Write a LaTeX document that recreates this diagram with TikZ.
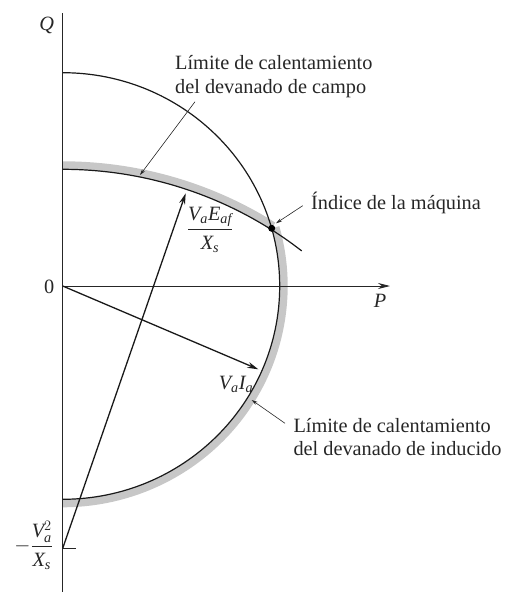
\documentclass[tikz,border=0pt]{standalone}
\usepackage{amsmath}
\usepackage{fontspec}
\setmainfont{Liberation Serif}
\usetikzlibrary{arrows.meta,calc}
\newcommand{\mi}[1]{\textit{#1}}
\begin{document}
\begin{tikzpicture}[x=1pt,y=1pt,
  every node/.style={font=\fontsize{20.3}{23}\selectfont, text=black!85, inner sep=0pt},
  axisline/.style={line width=0.9pt, black!85},
  curve/.style={line width=1.2pt, black!90},
  band/.style={line width=8pt, black!22},
  vec/.style={line width=1.3pt, black!90, -{Stealth[length=11pt,width=6pt]}},
  leader/.style={line width=0.6pt, black!85, -{Stealth[length=6pt,width=3.5pt]}}]
\useasboundingbox (-62.7,-306) rectangle (441.3,286);
% key points
\coordinate (O) at (0,0);
\coordinate (C) at (0,-262.3);
\coordinate (Eaf) at (123,92.7);
\coordinate (Ia) at (195.6,-83.3);
% gray bands
\draw[band] (15.69:221 and 217.3) arc[start angle=15.69,end angle=-90,x radius=221,y radius=217.3];
\draw[band] (0,120.7) arc[start angle=90,end angle=57.3,x radius=389.6,y radius=383];
% limit curves
\draw[curve] (0,213.3) arc[start angle=90,end angle=-90,x radius=217,y radius=213.3];
\draw[curve] (0,116.7) arc[start angle=90,end angle=51.7,x radius=385.6,y radius=379];
% axes
\draw[axisline] (0,-306) -- (0,273);
\draw[axisline,-{Stealth[length=12pt,width=6pt]}] (O) -- (327.3,0) coordinate (Pend);
\draw[axisline] (C) -- (13.3,-262.3) coordinate (tick);
% vectors
\draw[vec] (C) -- (Eaf);
\draw[vec] (O) -- (Ia);
% index point
\node[circle,fill=black,minimum size=7pt,inner sep=0pt] (idx) at (209,57.7) {};
% labels
\node (Qlab) at (-16,261) {\mi{Q}};
\node (Plab) at (317.3,-15) {\mi{P}};
\node (zero) at (-13.4,-0.7) {0};
\node (EafLab) at (147.3,56) {$\dfrac{\mi{V}_{\mi{a}}\mi{E}_{\mi{af}}}{\mi{X}_{\mi{s}}}$};
\node (IaLab) at (173.3,-98) {$\mi{V}_{\mi{a}}\mi{I}_{\mi{a}}$};
\node[anchor=east] (VsqLab) at (-9.5,-259) {$-\dfrac{\mi{V}_{\mi{a}}^{2}}{\mi{X}_{\mi{s}}}$};
\node[anchor=base west] (fld1) at (112.3,216) {Límite de calentamiento};
\node[anchor=base west] (fld2) at (112.3,192.7) {del devanado de campo};
\node[anchor=base west] (idxt) at (248.3,76.7) {Índice de la máquina};
\node[anchor=base west] (ind1) at (230.6,-146.7) {Límite de calentamiento};
\node[anchor=base west] (ind2) at (230.6,-169) {del devanado de inducido};
% leaders
\coordinate (fldA) at (132.3,184.3);
\coordinate (fldB) at (77.3,111);
\coordinate (idxA) at (240,80.3);
\coordinate (idxB) at (213.3,62.7);
\coordinate (indA) at (222.3,-137.3);
\coordinate (indB) at (189,-114);
\draw[leader] (fldA) -- (fldB);
\draw[leader] (idxA) -- (idxB);
\draw[leader] (indA) -- (indB);
\end{tikzpicture}
\end{document}
